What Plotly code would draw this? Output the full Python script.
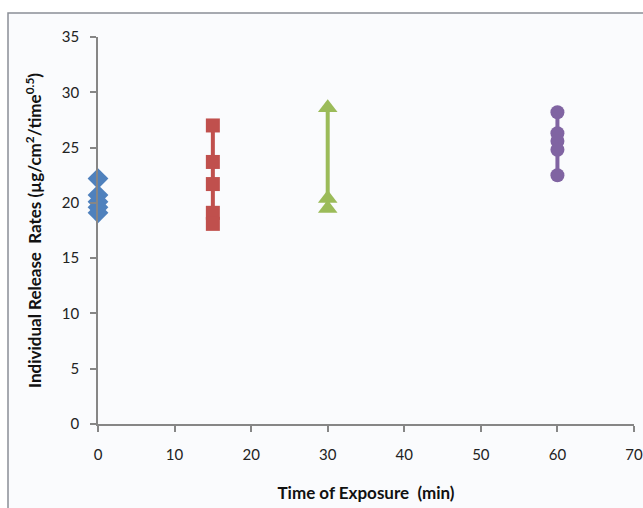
import plotly.graph_objects as go

# Data
times = [0, 15, 30, 60]
rates_0 = [22.2, 20.7, 20.1, 19.6, 19.1]
rates_15 = [27.0, 23.7, 21.7, 19.1, 18.1]
rates_30 = [28.6, 20.4, 19.5]
rates_60 = [28.2, 26.3, 25.6, 24.8, 22.5]
x_ticks = [0, 10, 20, 30, 40, 50, 60, 70]
y_ticks = [0, 5, 10, 15, 20, 25, 30, 35]

series = [
    (times[0], rates_0, "#4F81BD", "diamond", 16),
    (times[1], rates_15, "#C0504D", "square", 14),
    (times[2], rates_30, "#9BBB59", "triangle-up", 17),
    (times[3], rates_60, "#8064A2", "circle", 14),
]

fig = go.Figure()
for t, vals, col, sym, sz in series:
    fig.add_trace(go.Scatter(
        x=[t] * len(vals), y=vals, mode="lines+markers",
        line=dict(color=col, width=4),
        marker=dict(symbol=sym, size=sz, color=col),
        showlegend=False, cliponaxis=False,
    ))

font = "Lato, Open Sans, sans-serif"
L, R, T, B = 98, 9, 37, 84
W, H = 643, 508
pw, ph = W - L - R, H - T - B

def px(xp):
    return (xp - L) / pw

def py(yp):
    return (H - B - yp) / ph

fig.add_shape(type="rect", xref="paper", yref="paper",
              x0=px(8), x1=px(650), y0=py(515), y1=py(13),
              line=dict(color="#8a8f96", width=1.5), fillcolor="#fafbfd", layer="below")

axis_common = dict(
    showgrid=False, zeroline=False, showline=True, linecolor="#868686", linewidth=1.5,
    ticks="outside", ticklen=6, tickcolor="#868686", tickwidth=1.5,
    tickfont=dict(family=font, size=15, color="#222222"),
    automargin=False,
)

fig.update_xaxes(range=[0, 70], tickvals=x_ticks, ticklabelstandoff=10,
                 title=dict(text="<b>Time of Exposure  (min)</b>", font=dict(family=font, size=17, color="#111111"), standoff=25),
                 **axis_common)
fig.update_yaxes(range=[0, 35], tickvals=y_ticks, ticklabelstandoff=8,
                 title=dict(text="<b>Individual Release  Rates (µg/cm<sup>2</sup>/time<sup>0.5</sup>)</b>",
                            font=dict(family=font, size=17, color="#111111"), standoff=16),
                 **axis_common)

fig.update_layout(
    width=W, height=H,
    margin=dict(l=L, r=R, t=T, b=B),
    paper_bgcolor="white", plot_bgcolor="rgba(0,0,0,0)",
    showlegend=False,
)

fig.write_html("out.html")
